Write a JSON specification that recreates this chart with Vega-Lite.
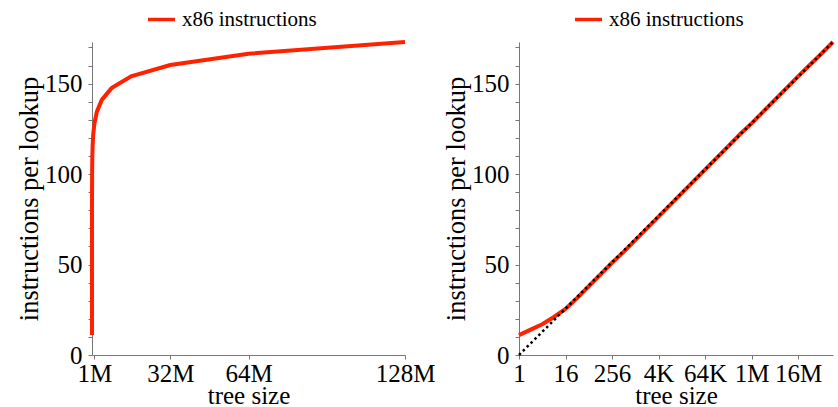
{
  "$schema": "https://vega.github.io/schema/vega-lite/v6.json",
  "background": "white",
  "padding": {"left": 16, "top": 4, "right": 0, "bottom": 0},
  "datasets": {
    "d": [
      {"size": 1, "ipl": 11, "series": "x86 instructions"},
      {"size": 2, "ipl": 14, "series": "x86 instructions"},
      {"size": 4, "ipl": 17, "series": "x86 instructions"},
      {"size": 8, "ipl": 21, "series": "x86 instructions"},
      {"size": 16, "ipl": 25.5, "series": "x86 instructions"},
      {"size": 32, "ipl": 31.5, "series": "x86 instructions"},
      {"size": 64, "ipl": 38, "series": "x86 instructions"},
      {"size": 128, "ipl": 44.5, "series": "x86 instructions"},
      {"size": 256, "ipl": 51, "series": "x86 instructions"},
      {"size": 512, "ipl": 57, "series": "x86 instructions"},
      {"size": 1024, "ipl": 63.5, "series": "x86 instructions"},
      {"size": 2048, "ipl": 70, "series": "x86 instructions"},
      {"size": 4096, "ipl": 76.5, "series": "x86 instructions"},
      {"size": 8192, "ipl": 83, "series": "x86 instructions"},
      {"size": 16384, "ipl": 89.5, "series": "x86 instructions"},
      {"size": 32768, "ipl": 96, "series": "x86 instructions"},
      {"size": 65536, "ipl": 102.5, "series": "x86 instructions"},
      {"size": 131072, "ipl": 109, "series": "x86 instructions"},
      {"size": 262144, "ipl": 115.5, "series": "x86 instructions"},
      {"size": 524288, "ipl": 122, "series": "x86 instructions"},
      {"size": 1048576, "ipl": 128, "series": "x86 instructions"},
      {"size": 2097152, "ipl": 134.5, "series": "x86 instructions"},
      {"size": 4194304, "ipl": 141, "series": "x86 instructions"},
      {"size": 8388608, "ipl": 147.5, "series": "x86 instructions"},
      {"size": 16777216, "ipl": 154, "series": "x86 instructions"},
      {"size": 33554432, "ipl": 160.3, "series": "x86 instructions"},
      {"size": 67108864, "ipl": 166.5, "series": "x86 instructions"},
      {"size": 134217728, "ipl": 173, "series": "x86 instructions"}
    ],
    "ref": [
      {"size": 1, "ipl": 0},
      {"size": 134217728, "ipl": 173}
    ]
  },
  "config": {
    "view": {"stroke": null},
    "font": "Liberation Serif",
    "axis": {
      "labelFont": "Liberation Serif",
      "labelFontSize": 25,
      "titleFont": "Liberation Serif",
      "titleFontSize": 25,
      "titleFontWeight": "normal",
      "labelColor": "black",
      "titleColor": "black",
      "domainColor": "#777777",
      "tickColor": "#777777",
      "domainWidth": 1,
      "tickWidth": 1,
      "tickSize": 4,
      "grid": false,
      "labelPadding": 2,
      "titlePadding": 2
    },
    "axisX": {"titlePadding": -3},
    "axisY": {"titleFontSize": 26.5, "titlePadding": 1, "labelPadding": 6},
    "legend": {
      "labelFont": "Liberation Serif",
      "labelFontSize": 21,
      "labelColor": "black",
      "symbolType": "stroke",
      "symbolStrokeWidth": 3.5,
      "symbolSize": 729,
      "labelOffset": 5,
      "padding": 0,
      "title": null
    }
  },
  "spacing": 8,
  "resolve": {"scale": {"color": "independent"}, "legend": {"color": "independent"}},
  "hconcat": [
    {
      "width": 313,
      "height": 313,
      "layer": [
        {
          "data": {"name": "d"},
          "mark": {"type": "line", "strokeWidth": 4, "clip": false},
          "encoding": {
            "x": {"field": "size", "type": "quantitative",
              "scale": {"domain": [0, 134217728], "nice": false},
              "axis": {"values": [1048576, 33554432, 67108864, 134217728],
                "labelExpr": "datum.value >= 1048576 ? format(datum.value/1048576,'d')+'M' : datum.value >= 1024 ? format(datum.value/1024,'d')+'K' : format(datum.value,'d')",
                "title": "tree size", "labelFlush": false, "labelOverlap": false}},
            "y": {"field": "ipl", "type": "quantitative",
              "scale": {"domain": [0, 173], "nice": false},
              "axis": {"values": [0, 50, 100, 150], "title": "instructions per lookup", "labelFlush": false}},
            "color": {"field": "series", "type": "nominal",
              "scale": {"range": ["#ff2200"]},
              "legend": {"orient": "none", "legendX": 54, "legendY": -38}}
          }
        },
        {
          "data": {"name": "d"},
          "mark": {"type": "line", "opacity": 0},
          "encoding": {
            "x": {"field": "size", "type": "quantitative"},
            "y": {"field": "ipl", "type": "quantitative",
              "axis": {"orient": "left", "values": [10, 20, 30, 40, 60, 70, 80, 90, 110, 120, 130, 140, 160, 170], "labels": false, "domain": false, "title": null}}
          }
        }
      ],
      "resolve": {"axis": {"y": "independent"}}
    },
    {
      "width": 314,
      "height": 313,
      "layer": [
        {
          "data": {"name": "d"},
          "mark": {"type": "line", "strokeWidth": 4, "clip": false},
          "encoding": {
            "x": {"field": "size", "type": "quantitative",
              "scale": {"type": "log", "base": 2, "domain": [1, 134217728], "nice": false},
              "axis": {"values": [1, 16, 256, 4096, 65536, 1048576, 16777216],
                "labelExpr": "datum.value >= 1048576 ? format(datum.value/1048576,'d')+'M' : datum.value >= 1024 ? format(datum.value/1024,'d')+'K' : format(datum.value,'d')",
                "title": "tree size", "labelFlush": false, "labelOverlap": false}},
            "y": {"field": "ipl", "type": "quantitative",
              "scale": {"domain": [0, 173], "nice": false},
              "axis": {"values": [0, 50, 100, 150], "title": "instructions per lookup", "labelFlush": false}},
            "color": {"field": "series", "type": "nominal",
              "scale": {"range": ["#ff2200"]},
              "legend": {"orient": "none", "legendX": 54, "legendY": -38}}
          }
        },
        {
          "data": {"name": "ref"},
          "mark": {"type": "line", "color": "black", "strokeWidth": 2.5, "strokeDash": [2.5, 3], "clip": false},
          "encoding": {
            "x": {"field": "size", "type": "quantitative"},
            "y": {"field": "ipl", "type": "quantitative",
              "axis": {"orient": "left", "values": [10, 20, 30, 40, 60, 70, 80, 90, 110, 120, 130, 140, 160, 170], "labels": false, "domain": false, "title": null}}
          }
        }
      ],
      "resolve": {"axis": {"y": "independent"}}
    }
  ]
}
